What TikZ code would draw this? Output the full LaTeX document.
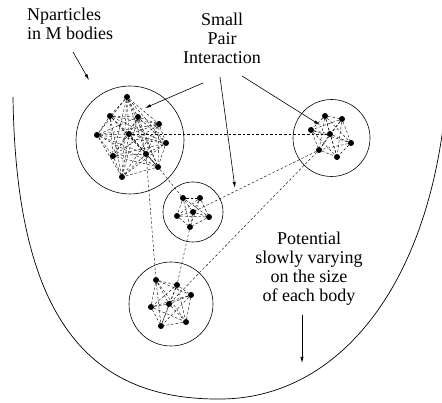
\documentclass[tikz,border=0pt]{standalone}
\usepackage{fontspec}
\setmainfont{Liberation Serif}
\usetikzlibrary{arrows.meta}

% join every pair of particles of one body
\newcommand{\linkall}[2]{%
  \foreach \i in {1,...,\numexpr#2-1\relax}{%
    \pgfmathtruncatemacro\k{\i+1}%
    \foreach \j in {\k,...,#2}{\draw[link] (#1\i) -- (#1\j);}}}

\begin{document}
\begin{tikzpicture}[x=1pt,y=-1pt,
      >={Latex[length=6pt,width=3.2pt]},
      body/.style={draw=black,line width=0.6pt,circle,inner sep=0pt},
      dot/.style={fill=black,circle,inner sep=0pt,minimum size=6pt},
      link/.style={draw=black,line width=0.4pt,dash pattern=on 2.6pt off 2pt},
      label/.style={font=\rmfamily\fontsize{18}{19.2}\selectfont,inner sep=0pt},
      pointer/.style={draw=black,line width=0.6pt,->},
      wall/.style={draw=black,line width=0.7pt}
    ]
    \useasboundingbox (0,0) rectangle (442,403);
    % the slowly varying outer potential
    \draw[wall] (13,97) .. controls (16,320) and (90,400) .. (220,399)
      .. controls (330,399) and (420,300) .. (443,128);
    % bodies
    \node[body,minimum size=108pt] (A) at (130,140) {};
    \node[body,minimum size=77pt] (B) at (331.5,138) {};
    \node[body,minimum size=60pt] (C) at (193,212) {};
    \node[body,minimum size=84pt] (D) at (171,304) {};
    % particles
    \foreach \n/\x/\y in {a1/127/97, a2/110/116, a3/138/117, a4/159/124,
        a5/97/135, a6/129/134, a7/166/143, a8/113/156, a9/146/154,
        a10/158/167, a11/122/177,
        b1/325/116, b2/342/119, b3/311/130, b4/330/134, b5/351/143,
        b6/319/150, b7/337/157,
        c1/183/198, c2/200/198, c3/177/216, c4/193/212, c5/209/217,
        c6/190/227,
        d1/156/280, d2/177/285, d3/191/295, d4/151/307, d5/169/304,
        d6/186/322, d7/161/326}
      \node[dot] (\n) at (\x,\y) {};
    % pair interactions inside each body
    \linkall{a}{11}
    \linkall{b}{7}
    \linkall{c}{6}
    \linkall{d}{7}
    % interactions between bodies
    \foreach \u/\v in {a6/b4, a10/c1, a9/d1, c6/d2, b6/c4, b6/d5}
      \draw[link] (\u) -- (\v);
    % labels
    \node[label,align=left,anchor=north west] (nbody) at (27,7.7)
      {Nparticles\\in M bodies};
    \node[label,align=center,anchor=north] (pair) at (222,12.7)
      {Small\\Pair\\Interaction};
    \node[label,align=center,anchor=north] (pot) at (309,231.7)
      {Potential\\slowly varying\\on the size\\of each body};
    % pointers
    \coordinate (n0) at (73,52);  \coordinate (n1) at (89,80);
    \coordinate (s0) at (203,83); \coordinate (s1) at (145,108);
    \coordinate (t0) at (220,77); \coordinate (t1) at (235,188);
    \coordinate (u0) at (242,76); \coordinate (u1) at (320,125);
    \coordinate (v0) at (302,315); \coordinate (v1) at (302,363);
    \draw[pointer] (n0) -- (n1);
    \draw[pointer] (s0) -- (s1);
    \draw[pointer] (t0) -- (t1);
    \draw[pointer] (u0) -- (u1);
    \draw[pointer] (v0) -- (v1);
  \end{tikzpicture}
\end{document}
